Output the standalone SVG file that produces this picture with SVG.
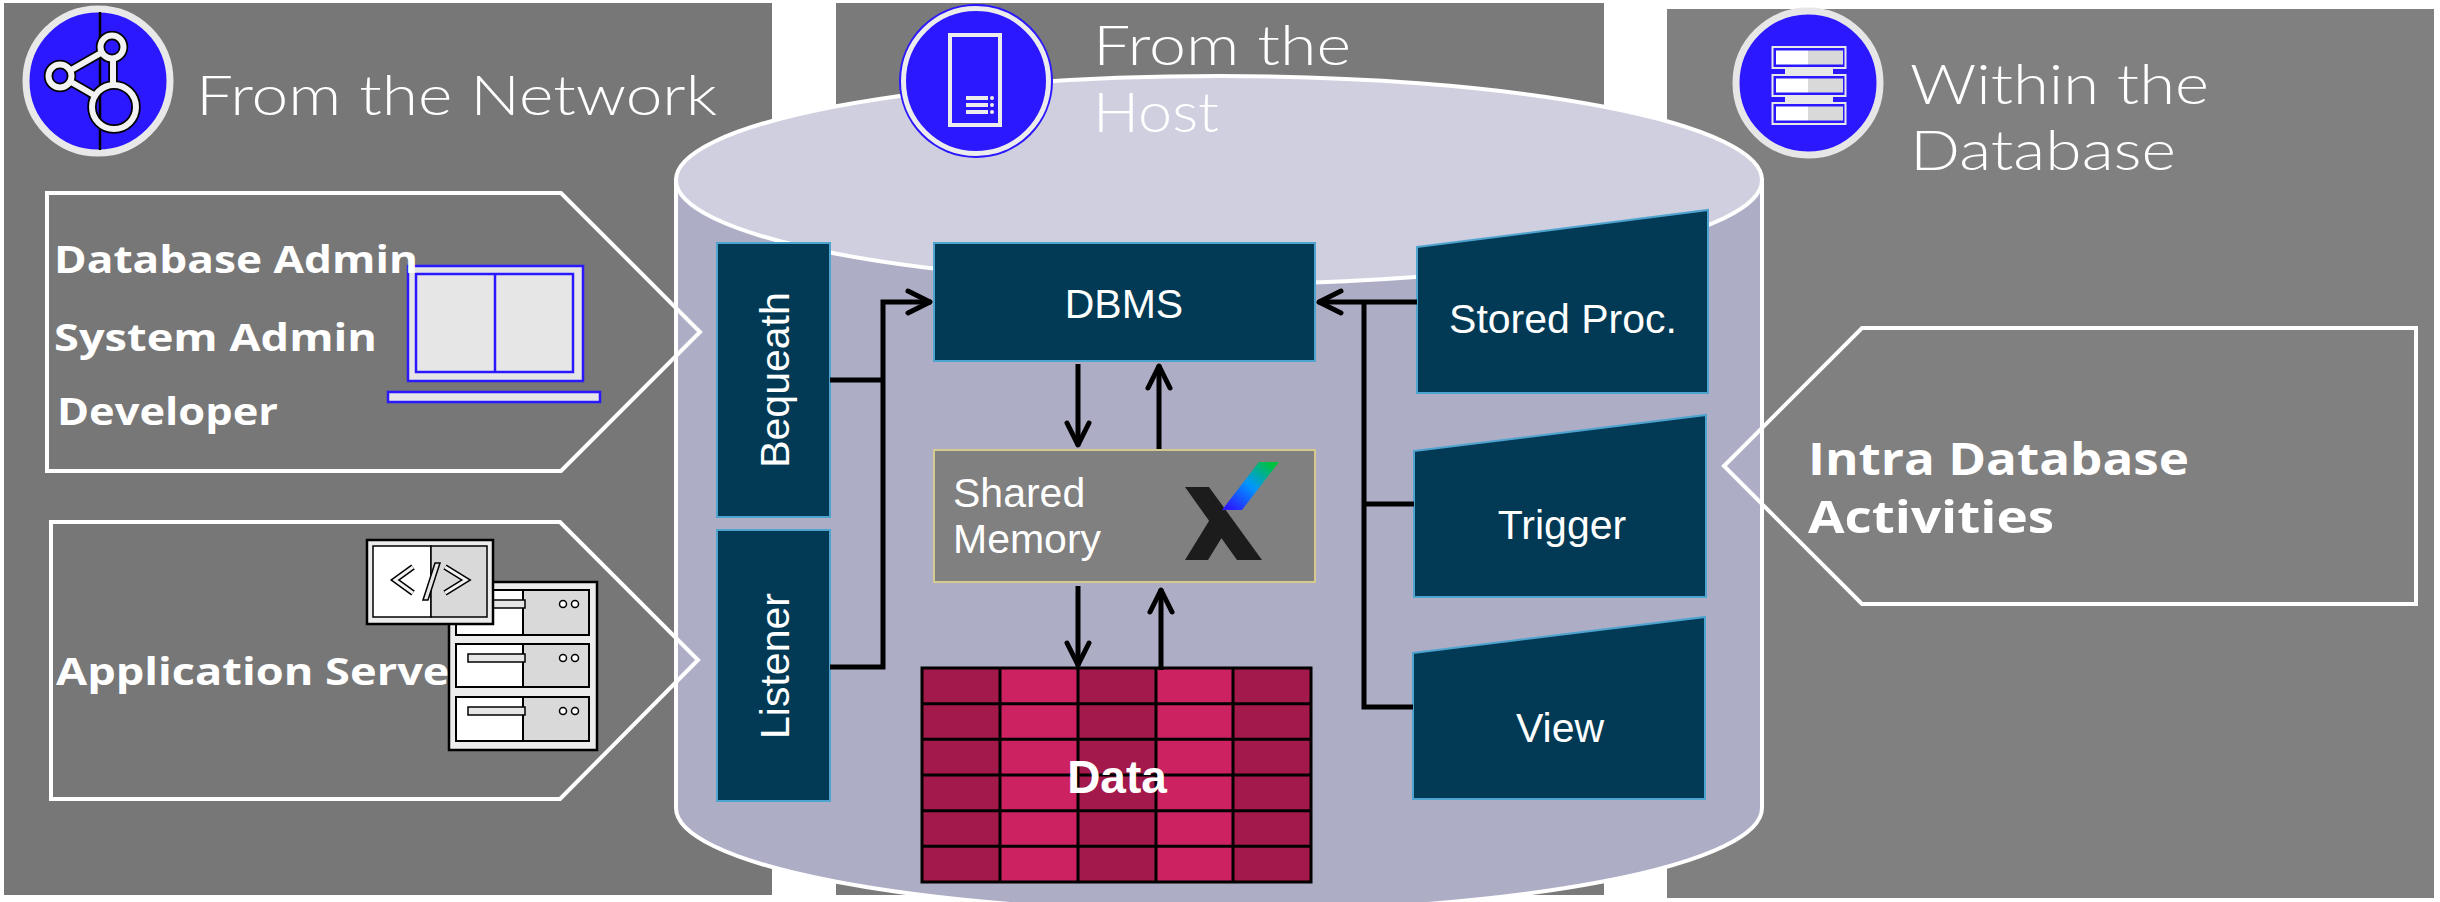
<svg xmlns="http://www.w3.org/2000/svg" width="2440" height="902" viewBox="0 0 2440 902">
  <style>
    .title{font-family:Lato,"Open Sans","Liberation Sans",sans-serif;font-weight:300;fill:#fff;font-size:56px}
    .bold{font-family:"Open Sans","Liberation Sans",sans-serif;font-weight:700;fill:#fff}
    .lbl{font-family:"Liberation Sans",Arial,sans-serif;fill:#fff;font-size:41px}
    .box{fill:#023a55;stroke:#4fa3cf;stroke-width:2}
    .callout{fill:none;stroke:#fff;stroke-width:4}
    .conn{fill:none;stroke:#000;stroke-width:5}
    .blue{fill:#2b18ff}
    .hw{stroke:#000;stroke-width:2}
  </style>
  <defs>
    <marker id="ah" markerUnits="userSpaceOnUse" viewBox="-28 -16 32 32" refX="1" refY="0" markerWidth="32" markerHeight="32" orient="auto">
      <path d="M-22,-11 L0,0 L-22,11" fill="none" stroke="#000" stroke-width="5" stroke-linejoin="round" stroke-linecap="round"/>
    </marker>
    <linearGradient id="xg" gradientUnits="userSpaceOnUse" x1="1232" y1="510" x2="1269" y2="462">
      <stop offset="0" stop-color="#2a1cff"/>
      <stop offset="0.5" stop-color="#0096ff"/>
      <stop offset="1" stop-color="#00c23c"/>
    </linearGradient>
  </defs>

  <rect width="2440" height="902" fill="#fff"/>

  <!-- background panels -->
  <g id="panel-network">
    <rect x="4" y="3" width="768" height="892" fill="#777"/>
  </g>
  <g id="panel-host">
    <rect x="836" y="3" width="768" height="892" fill="#7a7a7a"/>
  </g>
  <g id="panel-database">
    <rect x="1667" y="9" width="767" height="889" fill="#808080"/>
  </g>

  <!-- database cylinder -->
  <g id="database-cylinder">
    <path d="M676,180 L676,808 A543,104 0 0 0 1762,808 L1762,180 Z" fill="#adadc6" stroke="#fff" stroke-width="4"/>
    <ellipse cx="1219" cy="180" rx="543" ry="104" fill="#cfcfdf" stroke="#fff" stroke-width="4"/>
  </g>

  <!-- network heading -->
  <g id="network-heading">
    <circle cx="98" cy="81" r="72" class="blue" stroke="#e8e8e8" stroke-width="7"/>
    <line x1="100" y1="12" x2="100" y2="150" stroke="#000" stroke-width="2.5"/>
    <g fill="none" stroke="#000" stroke-width="9.5">
      <circle cx="112" cy="47" r="11.5"/>
      <circle cx="60" cy="76" r="11.5"/>
      <circle cx="114" cy="107" r="22"/>
      <line x1="73" y1="69" x2="99" y2="54"/>
      <line x1="73" y1="83" x2="92" y2="94"/>
      <line x1="113" y1="61" x2="113" y2="82"/>
    </g>
    <g fill="none" stroke="#f2f2f2" stroke-width="6">
      <circle cx="112" cy="47" r="11.5"/>
      <circle cx="60" cy="76" r="11.5"/>
      <circle cx="114" cy="107" r="22"/>
      <line x1="72" y1="69.5" x2="100" y2="53.5"/>
      <line x1="72" y1="82.5" x2="93" y2="94.5"/>
      <line x1="113" y1="58" x2="113" y2="86"/>
    </g>
    <text class="title" x="196" y="115" textLength="521" lengthAdjust="spacingAndGlyphs">From the Network</text>
  </g>

  <!-- host heading -->
  <g id="host-heading">
    <circle cx="976" cy="81" r="77" class="blue"/>
    <circle cx="976" cy="81" r="72.5" fill="none" stroke="#ececec" stroke-width="5"/>
    <rect x="950" y="35" width="50" height="90" fill="none" stroke="#ececec" stroke-width="4"/>
    <rect x="966" y="96" width="22" height="4" fill="#ececec"/>
    <rect x="966" y="103" width="22" height="4" fill="#ececec"/>
    <rect x="966" y="110" width="22" height="4" fill="#ececec"/>
    <circle cx="992" cy="98" r="2" fill="#ececec"/>
    <circle cx="992" cy="105" r="2" fill="#ececec"/>
    <circle cx="992" cy="112" r="2" fill="#ececec"/>
    <text class="title" x="1093" y="65" font-size="53" textLength="258" lengthAdjust="spacingAndGlyphs">From the</text>
    <text class="title" x="1093" y="132" font-size="53" textLength="126" lengthAdjust="spacingAndGlyphs">Host</text>
  </g>

  <!-- database heading -->
  <g id="database-heading">
    <circle cx="1808" cy="83" r="72" class="blue" stroke="#e6e6e6" stroke-width="7"/>
    <rect x="1785" y="67" width="48" height="9" fill="#e8e8e8"/>
    <rect x="1785" y="95" width="48" height="9" fill="#e8e8e8"/>
    <rect x="1772.5" y="47" width="73" height="21" class="blue" stroke="#e8e8e8" stroke-width="2"/>
    <rect x="1776" y="50.5" width="32" height="14" fill="#fff"/>
    <rect x="1808" y="50.5" width="35" height="14" fill="#d9d9d9"/>
    <rect x="1772.5" y="75" width="73" height="21" class="blue" stroke="#e8e8e8" stroke-width="2"/>
    <rect x="1776" y="78.5" width="32" height="14" fill="#fff"/>
    <rect x="1808" y="78.5" width="35" height="14" fill="#d9d9d9"/>
    <rect x="1772.5" y="103" width="73" height="21" class="blue" stroke="#e8e8e8" stroke-width="2"/>
    <rect x="1776" y="106.5" width="32" height="14" fill="#fff"/>
    <rect x="1808" y="106.5" width="35" height="14" fill="#d9d9d9"/>
    <text class="title" x="1910" y="104" textLength="299" lengthAdjust="spacingAndGlyphs">Within the</text>
    <text class="title" x="1910" y="170" textLength="266" lengthAdjust="spacingAndGlyphs">Database</text>
  </g>

  <!-- people who connect over the network -->
  <g id="network-users">
    <polygon class="callout" points="47,193 561,193 700,332 561,471 47,471"/>
    <rect x="408" y="266" width="175" height="115" fill="#e6e6e6" stroke="#2b18ff" stroke-width="2.5"/>
    <rect x="416" y="274" width="157" height="98" fill="#e6e6e6" stroke="#2b18ff" stroke-width="2.5"/>
    <line x1="495" y1="274" x2="495" y2="372" stroke="#2b18ff" stroke-width="2.5"/>
    <rect x="388" y="392" width="212" height="10" fill="#e6e6e6" stroke="#2b18ff" stroke-width="2.5"/>
    <text class="bold" x="54" y="273" font-size="38" textLength="364" lengthAdjust="spacingAndGlyphs">Database Admin</text>
    <text class="bold" x="54" y="351" font-size="38" textLength="323" lengthAdjust="spacingAndGlyphs">System Admin</text>
    <text class="bold" x="57" y="425" font-size="38" textLength="221" lengthAdjust="spacingAndGlyphs">Developer</text>
  </g>

  <!-- application server -->
  <g id="app-server">
    <polygon class="callout" points="51,522 560,522 698,660 560,799 51,799"/>
    <text class="bold" x="56" y="685" font-size="38" textLength="414" lengthAdjust="spacingAndGlyphs">Application Server</text>
    <rect x="449" y="582" width="148" height="168" fill="#ececec" stroke="#000" stroke-width="2.5"/>
    <g class="hw">
      <rect x="456" y="590" width="67" height="45" fill="#fff"/>
      <rect x="523" y="590" width="66" height="45" fill="#d9d9d9"/>
      <rect x="468" y="600" width="57" height="8" fill="#e6e6e6" stroke-width="1.5"/>
      <rect x="456" y="644" width="67" height="43" fill="#fff"/>
      <rect x="523" y="644" width="66" height="43" fill="#d9d9d9"/>
      <rect x="468" y="654" width="57" height="8" fill="#e6e6e6" stroke-width="1.5"/>
      <rect x="456" y="697" width="67" height="44" fill="#fff"/>
      <rect x="523" y="697" width="66" height="44" fill="#d9d9d9"/>
      <rect x="468" y="707" width="57" height="8" fill="#e6e6e6" stroke-width="1.5"/>
    </g>
    <g fill="#fff" stroke="#000" stroke-width="1.5">
      <circle cx="563" cy="604" r="3.5"/><circle cx="575" cy="604" r="3.5"/>
      <circle cx="563" cy="658" r="3.5"/><circle cx="575" cy="658" r="3.5"/>
      <circle cx="563" cy="711" r="3.5"/><circle cx="575" cy="711" r="3.5"/>
    </g>
    <rect x="367" y="540" width="126" height="84" fill="#ececec" stroke="#000" stroke-width="2.5"/>
    <rect x="373" y="546" width="58" height="71" fill="#fff" stroke="#000" stroke-width="1.5"/>
    <rect x="431" y="546" width="56" height="71" fill="#d9d9d9" stroke="#000" stroke-width="1.5"/>
    <polyline points="413,567 395,580 413,593" fill="none" stroke="#000" stroke-width="6"/>
    <polyline points="413,567 395,580 413,593" fill="none" stroke="#f2f2f2" stroke-width="3"/>
    <polyline points="445,567 466,580 445,593" fill="none" stroke="#000" stroke-width="6"/>
    <polyline points="445,567 466,580 445,593" fill="none" stroke="#f2f2f2" stroke-width="3"/>
    <polygon points="423,600 428,600 440,563 435,563" fill="#e6e6e6" stroke="#000" stroke-width="1.5"/>
  </g>

  <!-- in-database activity -->
  <g id="intra-database">
    <polygon class="callout" points="1724,466 1862,328 2416,328 2416,604 1862,604"/>
    <text class="bold" x="1808" y="475" font-size="44" textLength="381" lengthAdjust="spacingAndGlyphs">Intra Database</text>
    <text class="bold" x="1808" y="533" font-size="44" textLength="246" lengthAdjust="spacingAndGlyphs">Activities</text>
  </g>

  <!-- nodes inside the database -->
  <g id="bequeath">
    <rect class="box" x="717" y="243" width="113" height="274"/>
    <text class="lbl" transform="translate(789,380) rotate(-90)" text-anchor="middle">Bequeath</text>
  </g>
  <g id="listener">
    <rect class="box" x="717" y="530" width="113" height="271"/>
    <text class="lbl" transform="translate(789,666) rotate(-90)" text-anchor="middle">Listener</text>
  </g>
  <g id="dbms">
    <rect class="box" x="934" y="243" width="381" height="118"/>
    <text class="lbl" x="1124" y="318" text-anchor="middle" font-size="42">DBMS</text>
  </g>
  <g id="shared-memory">
    <rect x="934" y="450" width="381" height="132" fill="#808080" stroke="#d6c98f" stroke-width="2"/>
    <text class="lbl" x="953" y="507">Shared</text>
    <text class="lbl" x="953" y="553">Memory</text>
    <polygon points="1185,487 1209,487 1262,560 1237,560" fill="#1c1c1c"/>
    <polygon points="1185,560 1208,560 1232,521 1220,503" fill="#1c1c1c"/>
    <polygon points="1222,510 1242,510 1279,462 1259,462" fill="url(#xg)"/>
  </g>
  <g id="data">
    <rect x="922" y="668" width="78" height="214" fill="#a3194b"/>
    <rect x="1000" y="668" width="78" height="214" fill="#cc2262"/>
    <rect x="1078" y="668" width="78" height="214" fill="#a3194b"/>
    <rect x="1156" y="668" width="77" height="214" fill="#cc2262"/>
    <rect x="1233" y="668" width="78" height="214" fill="#a3194b"/>
    <g stroke="#000" stroke-width="3" fill="none">
      <rect x="922" y="668" width="389" height="214"/>
      <path d="M1000,668 V882 M1078,668 V882 M1156,668 V882 M1233,668 V882"/>
      <path d="M922,703.7 H1311 M922,739.3 H1311 M922,775 H1311 M922,810.7 H1311 M922,846.3 H1311"/>
    </g>
    <text x="1117" y="793" text-anchor="middle" font-family="'Liberation Sans',Arial,sans-serif" font-weight="700" font-size="46" fill="#fff">Data</text>
  </g>
  <g id="stored-proc">
    <polygon class="box" points="1417,247 1708,210 1708,393 1417,393"/>
    <text class="lbl" x="1563" y="333" text-anchor="middle">Stored Proc.</text>
  </g>
  <g id="trigger">
    <polygon class="box" points="1414,451 1706,415 1706,597 1414,597"/>
    <text class="lbl" x="1562" y="539" text-anchor="middle">Trigger</text>
  </g>
  <g id="view">
    <polygon class="box" points="1413,653 1705,617 1705,799 1413,799"/>
    <text class="lbl" x="1560" y="742" text-anchor="middle">View</text>
  </g>

  <!-- connectors -->
  <g id="connectors">
    <path class="conn" d="M830,667 H883 V302 H931" marker-end="url(#ah)"/>
    <path class="conn" d="M830,380 H883"/>
    <path class="conn" d="M1417,302 H1318" marker-end="url(#ah)"/>
    <path class="conn" d="M1364,302 V707 H1413"/>
    <path class="conn" d="M1364,504 H1414"/>
    <path class="conn" d="M1078,364 V446" marker-end="url(#ah)"/>
    <path class="conn" d="M1159,449 V365" marker-end="url(#ah)"/>
    <path class="conn" d="M1078,586 V666" marker-end="url(#ah)"/>
    <path class="conn" d="M1161,670 V589" marker-end="url(#ah)"/>
  </g>
</svg>
